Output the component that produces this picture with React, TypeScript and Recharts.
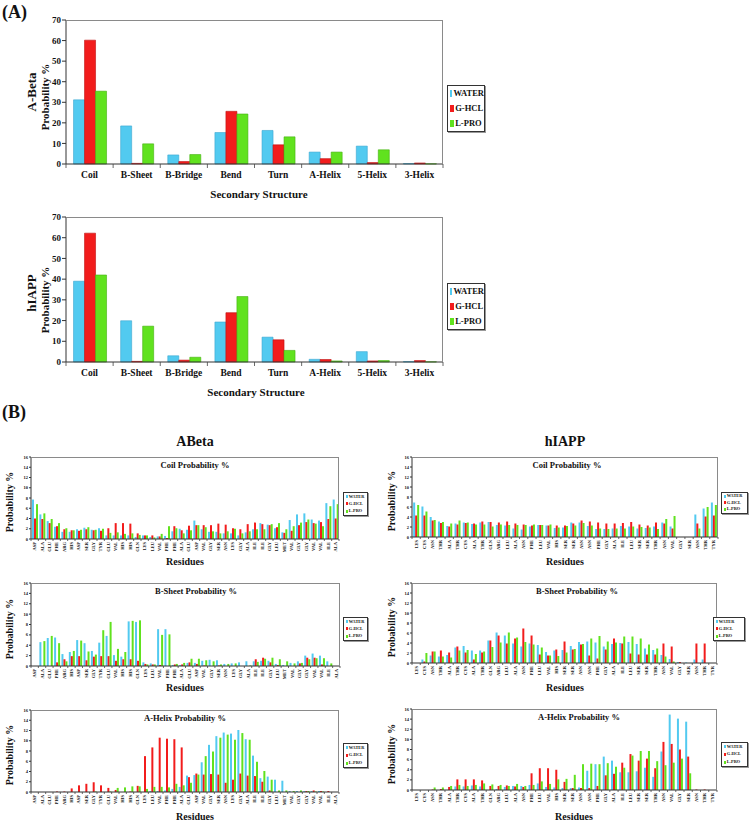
import React from 'react';
import { BarChart, Bar, XAxis, YAxis } from 'recharts';

// ---- panel A: secondary structure totals ----
const structures = ['Coil', 'B-Sheet', 'B-Bridge', 'Bend', 'Turn', 'A-Helix', '5-Helix', '3-Helix'];
const abetaWater = [31.2, 18.5, 4.4, 15.3, 16.3, 5.8, 8.7, 0.2];
const abetaGhcl = [60.2, 0.3, 1.2, 25.6, 9.3, 2.6, 0.7, 0.5];
const abetaLpro = [35.4, 9.8, 4.6, 24.3, 13.2, 5.8, 6.9, 0.1];
const hiappWater = [39.0, 19.9, 3.0, 19.3, 12.0, 1.3, 5.0, 0.2];
const hiappGhcl = [62.2, 0.3, 0.9, 23.8, 10.7, 1.2, 0.5, 0.7];
const hiappLpro = [42.0, 17.3, 2.3, 31.6, 5.6, 0.5, 0.7, 0.1];

// ---- panel B: per residue ----
const abetaResidues = ['ASP', 'ALA', 'GLU', 'PHE', 'ARG', 'HIS', 'ASP', 'SER', 'GLY', 'TYR', 'GLU', 'VAL', 'HIS', 'HIS', 'GLN', 'LYS', 'LEU', 'VAL', 'PHE', 'PHE', 'ALA', 'GLU', 'ASP', 'VAL', 'GLY', 'SER', 'ASN', 'LYS', 'GLY', 'ALA', 'ILE', 'ILE', 'GLY', 'LEU', 'MET', 'VAL', 'GLY', 'GLY', 'VAL', 'VAL', 'ILE', 'ALA'];
const hiappResidues = ['LYS', 'CYS', 'ASN', 'THR', 'ALA', 'THR', 'CYS', 'ALA', 'THR', 'GLN', 'ARG', 'LEU', 'ALA', 'ASN', 'PHE', 'LEU', 'VAL', 'HIS', 'SER', 'SER', 'ASN', 'ASN', 'PHE', 'GLY', 'ALA', 'ILE', 'LEU', 'SER', 'SER', 'THR', 'ASN', 'VAL', 'GLY', 'SER', 'ASN', 'THR', 'TYR'];

const abetaCoilWater = [7.7, 4.8, 3.5, 2.4, 1.4, 1.4, 1.9, 2.2, 1.8, 2.1, 0.7, 0.7, 0.7, 0.7, 0.4, 0.7, 0.4, 0.5, 0.6, 1.5, 2.0, 1.8, 3.6, 1.9, 1.4, 1.4, 1.1, 1.1, 0.7, 1.3, 1.9, 3.1, 2.8, 2.1, 1.3, 3.7, 4.8, 5.0, 3.8, 3.6, 7.0, 7.7];
const abetaCoilGhcl = [4.0, 3.9, 3.1, 2.5, 1.9, 1.7, 1.6, 1.9, 1.7, 1.6, 2.1, 3.1, 3.1, 3.0, 1.1, 0.7, 0.7, 0.5, 0.2, 2.5, 1.7, 2.6, 2.7, 2.7, 2.7, 3.0, 2.8, 2.1, 1.9, 2.9, 3.2, 2.9, 2.7, 2.3, 1.2, 1.6, 2.7, 3.3, 3.1, 3.3, 3.9, 4.0];
const abetaCoilLpro = [6.8, 5.0, 3.9, 3.1, 2.1, 1.7, 1.8, 2.3, 1.8, 2.0, 1.2, 1.3, 1.0, 1.1, 0.8, 0.7, 0.3, 1.0, 2.5, 2.1, 1.1, 1.7, 2.7, 2.3, 1.5, 1.1, 1.5, 2.0, 1.1, 1.5, 1.9, 1.9, 2.9, 3.1, 1.9, 2.5, 3.2, 3.8, 3.0, 2.5, 6.4, 6.8];

const hiappCoilWater = [6.9, 6.1, 4.0, 3.1, 2.2, 2.7, 2.9, 2.6, 2.9, 3.0, 2.4, 2.3, 1.7, 1.5, 2.1, 2.4, 2.3, 1.8, 1.9, 2.9, 2.9, 2.2, 1.6, 1.6, 1.7, 2.2, 2.1, 1.7, 1.8, 2.1, 2.9, 2.1, 0, 0, 4.5, 5.7, 6.9];
const hiappCoilGhcl = [4.3, 4.3, 3.3, 2.8, 2.1, 2.5, 2.8, 2.7, 3.1, 3.0, 2.9, 3.1, 2.7, 2.5, 2.3, 2.4, 2.3, 2.3, 2.3, 2.7, 3.3, 3.1, 2.9, 2.7, 2.7, 2.8, 3.0, 2.5, 2.3, 2.9, 2.7, 1.7, 0, 0, 2.7, 4.1, 4.3];
const hiappCoilLpro = [6.4, 5.1, 3.4, 3.0, 2.7, 3.3, 2.9, 2.5, 2.5, 2.1, 2.5, 2.4, 2.4, 2.4, 2.5, 2.4, 2.5, 1.9, 2.2, 2.3, 2.8, 2.3, 1.7, 1.6, 1.7, 1.7, 2.1, 2.0, 1.9, 1.6, 3.6, 4.2, 0, 0, 1.7, 6.0, 6.4];

const abetaSheetWater = [0, 4.6, 5.4, 5.5, 2.3, 2.7, 5.0, 4.4, 2.9, 4.5, 5.8, 2.1, 1.8, 8.6, 8.5, 0.7, 0.5, 7.1, 7.1, 0.2, 0.2, 0.6, 0.6, 1.0, 1.2, 1.1, 0.4, 0.5, 0.7, 0.9, 0.9, 1.0, 1.0, 0.4, 0.2, 0.6, 0.9, 2.0, 2.4, 2.0, 0.9, 0];
const abetaSheetGhcl = [0, 0, 0, 0.7, 1.3, 1.9, 1.9, 1.1, 1.8, 1.9, 1.9, 1.0, 1.3, 1.3, 1.0, 0.4, 0.3, 0.2, 0, 0.3, 0.3, 0.7, 0.4, 0.1, 0, 0.1, 0, 0, 0, 0, 1.3, 1.6, 0.7, 0.2, 0, 0, 0.5, 1.6, 1.6, 0.3, 0, 0];
const abetaSheetLpro = [0, 4.8, 5.8, 4.4, 0.9, 2.9, 4.9, 2.8, 2.2, 6.9, 8.5, 3.3, 2.7, 8.7, 8.8, 0.3, 0.3, 6.0, 6.1, 0.4, 0.6, 1.4, 1.4, 1.1, 0.9, 0.3, 0.4, 0.5, 0, 0.1, 0.8, 1.4, 1.6, 1.3, 0.9, 0.5, 0.6, 1.3, 1.5, 1.5, 0.5, 0];

const hiappSheetWater = [0, 0.7, 1.5, 1.3, 1.6, 3.1, 3.4, 2.5, 2.5, 4.5, 6.1, 5.5, 3.9, 3.3, 3.9, 3.6, 2.2, 2.5, 2.6, 3.4, 4.2, 4.3, 4.1, 3.3, 3.8, 4.0, 4.2, 3.8, 2.9, 2.6, 1.6, 0.8, 0.2, 0.1, 0.7, 0.7, 0];
const hiappSheetGhcl = [0, 0.3, 2.3, 2.5, 2.1, 3.3, 2.1, 0.7, 2.1, 4.5, 5.5, 3.9, 4.9, 6.9, 5.5, 1.7, 1.5, 2.7, 4.3, 2.7, 3.7, 1.5, 0.9, 2.7, 4.9, 3.9, 1.9, 1.7, 1.7, 1.7, 3.9, 3.3, 0.2, 0, 3.9, 3.9, 0];
const hiappSheetLpro = [0, 2.0, 2.3, 1.3, 1.1, 2.5, 2.6, 1.8, 2.3, 3.2, 4.1, 6.1, 5.1, 4.2, 3.7, 3.1, 1.5, 1.4, 2.1, 2.8, 3.8, 4.9, 5.4, 4.3, 4.1, 5.3, 5.3, 4.9, 3.7, 2.9, 1.3, 0.3, 0, 0, 0, 0, 0];

const abetaHelixWater = [0, 0, 0, 0, 0, 0, 0, 0, 0, 0, 0, 0, 0, 0, 0, 0, 0.2, 0.2, 0.3, 0.6, 1.0, 3.2, 3.3, 5.8, 9.2, 10.9, 11.6, 11.4, 12.1, 10.3, 7.1, 2.7, 3.0, 2.4, 2.2, 0.2, 0.2, 0.2, 0.2, 0.2, 0, 0];
const abetaHelixGhcl = [0, 0, 0, 0.1, 0.1, 0.7, 1.3, 1.6, 1.9, 1.3, 0.8, 0.4, 0, 0.1, 1.2, 7.0, 8.7, 10.6, 10.4, 10.3, 8.7, 2.9, 3.6, 3.4, 3.5, 3.4, 1.8, 2.4, 3.6, 3.2, 3.1, 2.0, 0.3, 0, 0, 0, 0, 0.2, 0.3, 0.2, 0.2, 0];
const abetaHelixLpro = [0, 0, 0, 0, 0, 0, 0, 0, 0.1, 0, 0.1, 0.8, 0.9, 1.1, 1.1, 0.6, 1.0, 1.0, 0.9, 1.6, 1.3, 1.8, 3.4, 7.0, 7.9, 10.6, 11.2, 10.2, 11.5, 10.2, 5.9, 4.1, 2.4, 0.3, 0.3, 0.2, 0.3, 0.2, 0.1, 0.1, 0, 0];

const hiappHelixWater = [0, 0, 0, 0, 0, 0.7, 0.7, 0.9, 0.7, 0, 0.2, 0.6, 0.8, 0.8, 1.0, 1.3, 0.6, 0.5, 0.4, 0.4, 0.5, 3.8, 5.1, 6.6, 5.8, 3.5, 3.5, 3.7, 4.4, 2.6, 7.6, 14.9, 14.1, 13.5, 0, 0, 0];
const hiappHelixGhcl = [0, 0, 0.1, 0.2, 0.6, 2.1, 2.1, 2.1, 1.9, 0.8, 0.8, 0.9, 0.7, 0.6, 3.3, 4.3, 4.3, 4.0, 1.6, 0.4, 0.4, 0.4, 0.8, 2.9, 3.2, 5.4, 7.1, 5.8, 6.2, 4.3, 9.5, 9.1, 8.0, 6.6, 0.1, 0.1, 0];
const hiappHelixLpro = [0, 0, 0.5, 0.5, 0.8, 1.0, 0.8, 1.0, 1.3, 1.1, 1.0, 0.8, 1.2, 0.8, 1.0, 1.7, 1.2, 2.1, 2.2, 3.0, 5.1, 5.2, 5.1, 5.3, 4.6, 4.4, 6.8, 7.7, 7.7, 5.7, 4.9, 5.4, 6.2, 3.3, 0, 0, 0];

const SERIES = [
  { key: 'w', name: 'WATER', color: '#52caf0', edge: '#3aa6d0' },
  { key: 'g', name: 'G-HCL', color: '#f21c1c', edge: '#c01010' },
  { key: 'l', name: 'L-PRO', color: '#60e21e', edge: '#45b010' },
];

const FONT = '"Liberation Serif", "Times New Roman", serif';

const makeRows = (names: string[], w: number[], g: number[], l: number[]) =>
  names.map((name, i) => ({ name, w: w[i], g: g[i], l: l[i] }));

// category tick: label + small boundary tick marks (Excel style)
const makeTick = (bw: number, n: number, rotated: boolean, fs: number) => (props: any) => {
  const { x, y, payload, index } = props;
  const tl = rotated ? 2 : 4;
  return (
    <g>
      <line x1={x - bw / 2} x2={x - bw / 2} y1={y} y2={y + tl} stroke="#444" strokeWidth={0.8} />
      {index === n - 1 && <line x1={x + bw / 2} x2={x + bw / 2} y1={y} y2={y + tl} stroke="#444" strokeWidth={0.8} />}
      {rotated ? (
        <text x={x} y={y + 3} transform={`rotate(-90 ${x} ${y + 3})`} textAnchor="end" dominantBaseline="central"
          fontSize={fs} fontWeight="bold" fontFamily={FONT} fill="#111">{payload.value}</text>
      ) : (
        <text x={x} y={y + 14} textAnchor="middle" fontSize={fs} fontWeight="bold" fontFamily={FONT} fill="#111">{payload.value}</text>
      )}
    </g>
  );
};

interface PanelProps {
  x: number; y: number; w: number; h: number;
  rows: any[]; ticks: number[]; max: number;
  yFont: number; xFont: number; rotated: boolean; gap: string; edge?: boolean;
}

const BarPanel: React.FC<PanelProps> = ({ x, y, w, h, rows, ticks, max, yFont, xFont, rotated, gap, edge }) => {
  const padL = 40, padT = 5, padR = 5, padB = 30;
  const yw = rotated ? 14 : 26;
  const bw = w / rows.length;
  return (
    <>
      <div style={{ position: 'absolute', left: x - padL, top: y - padT }}>
        <BarChart width={w + padL + padR} height={h + padT + padB} data={rows}
          margin={{ top: padT, right: padR, left: padL - yw, bottom: 0 }}
          barCategoryGap={gap} barGap={0}>
          <XAxis dataKey="name" interval={0} height={padB} tickLine={false} tickSize={0} tickMargin={0}
            axisLine={{ stroke: '#333' }} tick={makeTick(bw, rows.length, rotated, xFont)} />
          <YAxis width={yw} domain={[0, max]} ticks={ticks} interval={0} tickSize={rotated ? 2 : 4} tickMargin={1}
            axisLine={{ stroke: '#333' }} tickLine={{ stroke: '#333' }}
            tick={{ fontSize: yFont, fontWeight: 'bold', fontFamily: FONT, fill: '#111' }} />
          {SERIES.map((s) => (
            <Bar key={s.key} dataKey={s.key} name={s.name} fill={s.color}
              stroke={edge ? s.edge : undefined} strokeWidth={edge ? 0.6 : 0} isAnimationActive={false} />
          ))}
        </BarChart>
      </div>
      <div style={{
        position: 'absolute', left: x, top: y, width: w, height: h, boxSizing: 'border-box',
        borderTop: '1px solid #8a8a8a', borderRight: '1px solid #8a8a8a', pointerEvents: 'none',
      }} />
    </>
  );
};

const LegendBox: React.FC<{ x: number; y: number; w: number; h: number; fs: number; mk: number }> = ({ x, y, w, h, fs, mk }) => (
  <div style={{
    position: 'absolute', left: x, top: y, width: w, height: h, boxSizing: 'border-box',
    border: '1px solid #333', boxShadow: '1px 1px 0 #999', display: 'flex', flexDirection: 'column',
    justifyContent: 'space-around', paddingLeft: 2, background: '#fff',
  }}>
    {SERIES.map((s) => (
      <div key={s.key} style={{ display: 'flex', alignItems: 'center', fontSize: fs, lineHeight: 1, whiteSpace: 'nowrap' }}>
        <span style={{ display: 'inline-block', width: mk * 0.6, height: mk, background: s.color, marginRight: 1 }} />
        {s.name}
      </div>
    ))}
  </div>
);

const Txt: React.FC<{ x: number; y: number; fs: number; rot?: boolean; children: React.ReactNode }> = ({ x, y, fs, rot, children }) => (
  <div style={{
    position: 'absolute', left: x, top: y, fontSize: fs, whiteSpace: 'nowrap', lineHeight: 1,
    transform: `translate(-50%, -50%)${rot ? ' rotate(-90deg)' : ''}`,
  }}>{children}</div>
);

const tenTicks = [0, 10, 20, 30, 40, 50, 60, 70];
const twoTicks = [0, 2, 4, 6, 8, 10, 12, 14, 16];

export default function App() {
  const aTop = makeRows(structures, abetaWater, abetaGhcl, abetaLpro);
  const aBot = makeRows(structures, hiappWater, hiappGhcl, hiappLpro);

  const small = [
    { x: 31, y: 457, w: 308, h: 82, rows: makeRows(abetaResidues, abetaCoilWater, abetaCoilGhcl, abetaCoilLpro), title: 'Coil Probability %', tx: 195, lg: [343, 492, 25, 24], ylx: 10, res: [185, 562] },
    { x: 412, y: 457, w: 306, h: 80, rows: makeRows(hiappResidues, hiappCoilWater, hiappCoilGhcl, hiappCoilLpro), title: 'Coil Probability %', tx: 567, lg: [721, 492, 27, 22], ylx: 392, res: [565, 562] },
    { x: 31, y: 583, w: 309, h: 83, rows: makeRows(abetaResidues, abetaSheetWater, abetaSheetGhcl, abetaSheetLpro), title: 'B-Sheet Probability %', tx: 196, lg: [343, 617, 25, 24], ylx: 10, res: [185, 688] },
    { x: 412, y: 583, w: 305, h: 80, rows: makeRows(hiappResidues, hiappSheetWater, hiappSheetGhcl, hiappSheetLpro), title: 'B-Sheet Probability %', tx: 577, lg: [713, 617, 32, 24], ylx: 392, res: [565, 688] },
    { x: 31, y: 710, w: 308, h: 82, rows: makeRows(abetaResidues, abetaHelixWater, abetaHelixGhcl, abetaHelixLpro), title: 'A-Helix Probability %', tx: 185, lg: [343, 743, 25, 25], ylx: 10, res: [195, 817] },
    { x: 412, y: 709, w: 305, h: 81, rows: makeRows(hiappResidues, hiappHelixWater, hiappHelixGhcl, hiappHelixLpro), title: 'A-Helix Probability %', tx: 579, lg: [721, 742, 27, 25], ylx: 392, res: [574, 817] },
  ];

  return (
    <div style={{
      position: 'absolute', left: 0, top: 0, width: 753, height: 822, overflow: 'hidden',
      background: '#fff', fontFamily: FONT, fontWeight: 'bold', color: '#111',
    }}>
      <div style={{ position: 'absolute', left: 2, top: 2, fontSize: 18 }}>(A)</div>

      <BarPanel x={66} y={20} w={377} h={144} rows={aTop} ticks={tenTicks} max={70}
        yFont={9} xFont={9.5} rotated={false} gap="16%" edge />
      <Txt x={31} y={92} fs={13} rot>A-Beta</Txt>
      <Txt x={45} y={97} fs={11} rot>Probability %</Txt>
      <Txt x={259} y={194} fs={11}>Secondary Structure</Txt>
      <LegendBox x={447} y={85} w={38} h={47} fs={8.5} mk={7} />

      <BarPanel x={66} y={217} w={377} h={145} rows={aBot} ticks={tenTicks} max={70}
        yFont={9} xFont={9.5} rotated={false} gap="16%" edge />
      <Txt x={31} y={293} fs={13} rot>hIAPP</Txt>
      <Txt x={45} y={300} fs={11} rot>Probability %</Txt>
      <Txt x={256} y={392} fs={11}>Secondary Structure</Txt>
      <LegendBox x={447} y={283} w={38} h={47} fs={8.5} mk={7} />

      <div style={{ position: 'absolute', left: 2, top: 402, fontSize: 18 }}>(B)</div>
      <Txt x={195} y={442} fs={14}>ABeta</Txt>
      <Txt x={565} y={442} fs={14}>hIAPP</Txt>

      {small.map((c, i) => (
        <React.Fragment key={i}>
          <BarPanel x={c.x} y={c.y} w={c.w} h={c.h} rows={c.rows} ticks={twoTicks} max={16}
            yFont={4.5} xFont={4.5} rotated gap="14%" />
          <Txt x={c.tx} y={c.y + 8} fs={8.5}>{c.title}</Txt>
          <Txt x={c.ylx} y={c.y + c.h / 2 + 4} fs={10} rot>Probability %</Txt>
          <Txt x={c.res[0]} y={c.res[1]} fs={10}>Residues</Txt>
          <LegendBox x={c.lg[0]} y={c.lg[1]} w={c.lg[2]} h={c.lg[3]} fs={4.3} mk={3} />
        </React.Fragment>
      ))}
    </div>
  );
}
